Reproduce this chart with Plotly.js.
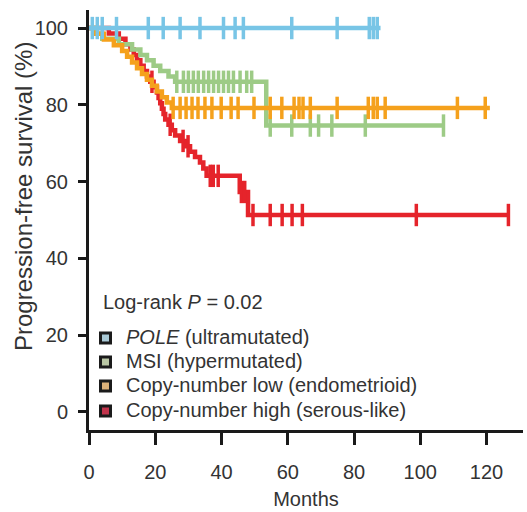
<!DOCTYPE html>
<html><head><meta charset="utf-8">
<script src="https://cdn.plot.ly/plotly-3.0.1.min.js"></script>
<style>html,body{margin:0;padding:0;background:#fff}#chart{width:527px;height:512px}</style>
</head><body><div id="chart"></div>
<script>
// ---- Data ----
const groupNames = ['<i>POLE</i> (ultramutated)', 'MSI (hypermutated)', 'Copy-number low (endometrioid)', 'Copy-number high (serous-like)'];
const statText = 'Log-rank <i>P</i> = 0.02';

// POLE
const poleTimes = [0];
const poleSurv = [100];
const poleEnd = 88;
const poleCensor = [1, 2.5, 4, 8.3, 17.9, 22.4, 27.5, 33.5, 40.6, 44.1, 46.6, 61.2, 74.9, 84.6, 85.8, 87];

// MSI
const msiTimes = [0, 1.5, 4, 9, 13, 15.5, 17.5, 19.5, 21.5, 24, 26, 53.5];
const msiSurv = [100, 98.6, 97.2, 95.8, 94.4, 93, 91.6, 90.2, 88.8, 87.4, 86, 74.6];
const msiEnd = 107;
const msiCensor = [26.5, 28.5, 30, 31.5, 33, 34.6, 36.1, 37.6, 39.1, 40.6, 42.1, 43.6, 45.6, 47.6, 49.1, 54.7, 61.2, 66.8, 69.3, 73.3, 83.4, 107];

// Copy-number low
const cnlTimes = [0, 2, 4.5, 7.5, 10, 11.5, 13, 14.5, 16, 17.5, 19, 20.5, 22, 23.5, 25];
const cnlSurv = [100, 98.5, 97, 95.5, 94, 92.5, 91, 89.5, 88, 86.5, 85, 83.5, 82, 80.6, 79.2];
const cnlEnd = 121;
const cnlCensor = [25.4, 27.5, 29.3, 31.1, 32.9, 35.0, 37.1, 39.9, 42.9, 45.0, 49.8, 54.7, 58.2, 61.9, 63.4, 64.6, 66.8, 74.9, 84.3, 85.8, 87.0, 89.4, 111.2, 119.6];

// Copy-number high
const cnhTimes = [0, 6, 9, 11, 12.5, 13.5, 14.5, 15.5, 16.5, 17.5, 18.5, 19.5, 20.5, 21, 21.5, 22, 22.5, 23, 24, 25, 26, 27.5, 29, 30.5, 32, 33.5, 34.5, 35.5, 45.5, 48];
const cnhSurv = [100, 98.6, 97.2, 95.8, 94.4, 93, 91.6, 90.2, 88.8, 87.4, 86, 84.6, 83.2, 81.8, 80.4, 79, 77.6, 76.2, 74.8, 73.4, 72, 70.6, 69.2, 67.8, 66.4, 65, 63.4, 61.5, 57.3, 51.3];
const cnhEnd = 127;
const cnhCensor = [19, 24.5, 28.4, 29.9, 36.6, 37.5, 39, 46, 47, 49.5, 54.7, 58.3, 61.3, 64.4, 98.8, 126.6];

const colors = ['#78c5e6', '#9dcb86', '#f5a11c', '#e5242b'];
const legendFill = ['#a9c9d6', '#b9c6a4', '#dcb27a', '#c2344c'];

// ---- helpers ----
function stepLine(times, surv, end) {
  return { x: times.concat([end]), y: surv.concat([surv[surv.length - 1]]) };
}
function survAt(times, surv, t) {
  let s = surv[0];
  for (let i = 0; i < times.length; i++) { if (times[i] <= t) s = surv[i]; }
  return s;
}

const groups = [
  [poleTimes, poleSurv, poleEnd, poleCensor],
  [msiTimes, msiSurv, msiEnd, msiCensor],
  [cnlTimes, cnlSurv, cnlEnd, cnlCensor],
  [cnhTimes, cnhSurv, cnhEnd, cnhCensor]
];
const drawOrder = [3, 1, 2, 0];
const traces = [];
drawOrder.forEach(function (g) {
  const d = groups[g];
  const ln = stepLine(d[0], d[1], d[2]);
  traces.push({ x: ln.x, y: ln.y, mode: 'lines', name: groupNames[g], line: { shape: 'hv', color: colors[g], width: 4.5 }, showlegend: false, hoverinfo: 'skip' });
  traces.push({ x: d[3], y: d[3].map(function (t) { return survAt(d[0], d[1], t); }), mode: 'markers',
    marker: { symbol: 'line-ns', size: 16, line: { color: colors[g], width: 3.5 } }, showlegend: false, hoverinfo: 'skip' });
});

// ---- legend drawn as annotations + small square shapes ----
const L = 89, T = 10, W = 434, H = 420;
const px = function (x) { return (x - L) / W; };
const py = function (y) { return (T + H - y) / H; };
const legendY = [337, 361, 385, 410];
const annotations = [
  { text: statText, xref: 'paper', yref: 'paper', x: px(101), y: py(302), xanchor: 'left', yanchor: 'middle',
    showarrow: false, font: { size: 20, color: '#333' } },
  { text: 'Progression-free survival (%)', xref: 'paper', yref: 'paper', x: px(23), y: py(197),
    xanchor: 'center', yanchor: 'middle', textangle: -90, showarrow: false, font: { size: 24, color: '#333' } }
];
const shapes = [];
groupNames.forEach(function (n, g) {
  annotations.push({ text: n, xref: 'paper', yref: 'paper', x: px(124), y: py(legendY[g]), xanchor: 'left', yanchor: 'middle',
    showarrow: false, font: { size: 20, color: '#333' } });
  shapes.push({ type: 'rect', xref: 'paper', yref: 'paper', x0: px(100.5), x1: px(110.5), y0: py(legendY[g] + 6), y1: py(legendY[g] - 4),
    fillcolor: legendFill[g], line: { color: '#1b1b1b', width: 3 } });
});

const layout = {
  width: 527, height: 512,
  margin: { l: L, r: 4, t: T, b: 82 },
  paper_bgcolor: '#fff', plot_bgcolor: '#fff',
  font: { family: 'Liberation Sans, Arial, sans-serif', size: 20, color: '#333' },
  showlegend: false,
  xaxis: {
    range: [0, 131], tickvals: [0, 20, 40, 60, 80, 100, 120],
    showgrid: false, zeroline: false, showline: true, linecolor: '#1a1a1a', linewidth: 3,
    ticks: 'outside', ticklen: 12, tickwidth: 3, tickcolor: '#1a1a1a', ticklabelstandoff: 10,
    tickfont: { size: 20, color: '#333' },
    title: { text: 'Months', font: { size: 20, color: '#333' }, standoff: 10 }
  },
  yaxis: {
    range: [-4.7, 104.7], tickvals: [0, 20, 40, 60, 80, 100],
    showgrid: false, zeroline: false, showline: true, linecolor: '#1a1a1a', linewidth: 3,
    ticks: 'outside', ticklen: 8, tickwidth: 3, tickcolor: '#1a1a1a', ticklabelstandoff: 6,
    tickfont: { size: 20, color: '#333' }
  },
  annotations: annotations,
  shapes: shapes
};
Plotly.newPlot('chart', traces, layout, { displayModeBar: false, staticPlot: true });
</script></body></html>
